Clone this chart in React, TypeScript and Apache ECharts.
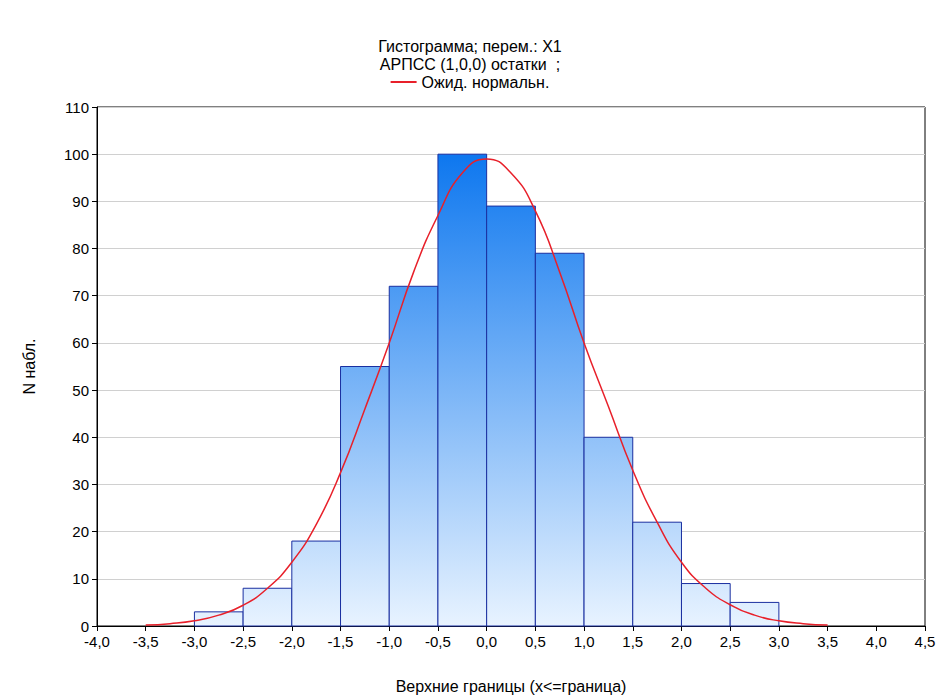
import React, { useEffect, useRef } from "react";
import * as echarts from "echarts";

const binStarts = [-3, -2.5, -2, -1.5, -1, -0.5, 0, 0.5, 1, 1.5, 2, 2.5];
const binCounts = [3, 8, 18, 55, 72, 100, 89, 79, 40, 22, 9, 5];
const binWidth = 0.5;
const curveX = [-3.5, -3.25, -3, -2.75, -2.5, -2.25, -2, -1.75, -1.5, -1.25, -1, -0.75, -0.5, -0.25, 0, 0.25, 0.5, 0.75, 1, 1.25, 1.5, 1.75, 2, 2.25, 2.5, 2.75, 3, 3.25, 3.5];
const curveY = [0.2, 0.5, 1.1, 2.3, 4.4, 8, 13.5, 21.5, 32.5, 46, 60, 75, 87, 96, 99, 96, 88, 75, 60, 46.5, 33, 22, 13.5, 8, 4.5, 2.3, 1.1, 0.5, 0.2];
const titleLines = ["Гистограмма; перем.: X1", "АРПСС (1,0,0) остатки  ;"];

const font = "Liberation Sans, Arial, sans-serif";
const fmt = (v: number) => v.toFixed(1).replace(".", ",");
const tStyle = { fontFamily: font, fontSize: 16, fontWeight: "normal", color: "#000" };

export default function App() {
  const ref = useRef<HTMLDivElement>(null);
  useEffect(() => {
    const chart = echarts.init(ref.current!, null, { renderer: "svg" });
    chart.setOption({
      animation: false,
      backgroundColor: "#fff",
      title: [
        { text: titleLines[0], left: "center", top: 38, padding: 0, textStyle: tStyle },
        { text: titleLines[1], left: "center", top: 56, padding: 0, textStyle: tStyle },
      ],
      legend: {
        top: 74, left: "center", padding: 0, itemWidth: 26, itemHeight: 2, icon: "rect",
        data: ["Ожид. нормальн."],
        textStyle: { fontFamily: font, fontSize: 16, color: "#000" },
      },
      grid: { left: 97, right: 15, top: 107, bottom: 74, show: true, borderColor: "#000", borderWidth: 1 },
      xAxis: {
        type: "value", min: -4, max: 4.5, interval: 0.5,
        name: "Верхние границы (x<=граница)", nameLocation: "middle", nameGap: 52,
        nameTextStyle: { fontFamily: font, fontSize: 16, color: "#000" },
        axisLine: { onZero: false, lineStyle: { color: "#000" } },
        axisTick: { lineStyle: { color: "#000" } },
        splitLine: { show: false },
        axisLabel: { formatter: fmt, fontFamily: font, fontSize: 15, color: "#000" },
      },
      yAxis: {
        type: "value", min: 0, max: 110, interval: 10,
        name: "N набл.", nameLocation: "middle", nameGap: 60,
        nameTextStyle: { fontFamily: font, fontSize: 16, color: "#000" },
        axisLine: { show: true, onZero: false, lineStyle: { color: "#000" } },
        axisTick: { show: true, lineStyle: { color: "#000" } },
        splitLine: { lineStyle: { color: "#d0d0d0" } },
        axisLabel: { fontFamily: font, fontSize: 15, color: "#000" },
      },
      series: [
        {
          type: "custom",
          data: binStarts.map((s, i) => [s, binCounts[i]]),
          renderItem: (params: any, api: any) => {
            const x0 = api.value(0), v = api.value(1);
            const p0 = api.coord([x0, 0]);
            const p1 = api.coord([x0 + binWidth, v]);
            const top = api.coord([0, 110])[1], bot = api.coord([0, 0])[1];
            return {
              type: "rect",
              shape: { x: p0[0], y: p1[1], width: p1[0] - p0[0], height: p0[1] - p1[1] },
              style: {
                fill: new echarts.graphic.LinearGradient(0, top + 50, 0, bot, [
                  { offset: 0, color: "#0f78ef" },
                  { offset: 1, color: "#e8f3ff" },
                ], true),
                stroke: "#1a2fa0", lineWidth: 1,
              },
            };
          },
          z: 2,
        },
        {
          name: "Ожид. нормальн.",
          type: "line", smooth: true, symbol: "none",
          data: curveX.map((x, i) => [x, curveY[i]]),
          lineStyle: { color: "#e8202a", width: 1.5 },
          itemStyle: { color: "#e8202a" },
          z: 3,
        },
      ],
    });
    return () => chart.dispose();
  }, []);
  return <div ref={ref} style={{ position: "absolute", left: 0, top: 0, width: 940, height: 700 }} />;
}
